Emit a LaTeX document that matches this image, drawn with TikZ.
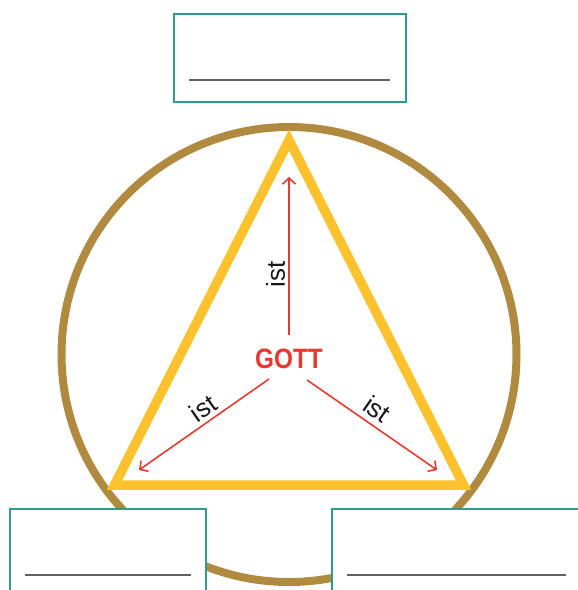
\documentclass[tikz,border=0pt]{standalone}
\usepackage{fontspec}
\setmainfont{Liberation Sans}
\usepackage{graphicx}
\usetikzlibrary{arrows.meta}
\definecolor{tealbox}{HTML}{2A9D8F}
\definecolor{ringcol}{HTML}{B08A3E}
\definecolor{tricol}{HTML}{FBC22D}
\definecolor{redcol}{HTML}{E8392F}
\definecolor{rulecol}{HTML}{616161}
\begin{document}
\begin{tikzpicture}[x=1pt,y=-1pt,
  box/.style={draw=tealbox, line width=2.4pt, fill=white, inner sep=0pt, anchor=north west},
  ruleline/.style={draw=rulecol, line width=1.7pt},
  arr/.style={draw=redcol, line width=1.6pt, -{Straight Barb[length=6pt,width=13pt,line width=1.6pt]}},
  lbl/.style={font=\fontsize{26}{28}\selectfont, text=black!90, inner sep=0pt}
]
\useasboundingbox (0,0) rectangle (578,590);
\clip (0,0) rectangle (578,590);
% ring
\node[draw=ringcol, line width=8pt, circle, minimum size=455pt, inner sep=0pt] (ring) at (289,354.5) {};
% triangle
\coordinate (A) at (289,140);
\coordinate (B) at (114.5,485);
\coordinate (C) at (463.5,485);
\draw[tricol, line width=9.5pt, line join=miter] (A) -- (B) -- (C) -- cycle;
% center
\node[inner sep=0pt, text=redcol, font=\bfseries\fontsize{28}{30}\selectfont] (gott) at (289,359) {\scalebox{0.87}[1]{GOTT}};
\coordinate (s1) at (289,335);
\coordinate (e1) at (289,177);
\coordinate (s2) at (269,379);
\coordinate (e2) at (139,470);
\coordinate (s3) at (307,380);
\coordinate (e3) at (437,470);
\draw[arr] (s1) -- (e1);
\draw[arr] (s2) -- (e2);
\draw[arr] (s3) -- (e3);
\node[lbl, rotate=90] (l1) at (275.5,274) {ist};
\node[lbl, rotate=35] (l2) at (203,408) {ist};
\node[lbl, rotate=-35] (l3) at (377,409) {ist};
% boxes
\node[box, minimum width=232pt, minimum height=88pt] (top) at (173,13) {};
\node[box, minimum width=196pt, minimum height=120pt] (bl) at (9,508) {};
\node[box, minimum width=280pt, minimum height=120pt] (br) at (331,508) {};
\draw[ruleline] ([shift={(16,67)}]top.north west) -- ([shift={(-17,67)}]top.north east);
\draw[ruleline] ([shift={(16,67)}]bl.north west) -- ([shift={(-16,67)}]bl.north east);
\draw[ruleline] ([shift={(16,67)}]br.north west) -- ([shift={(235,67)}]br.north west);
\end{tikzpicture}
\end{document}
